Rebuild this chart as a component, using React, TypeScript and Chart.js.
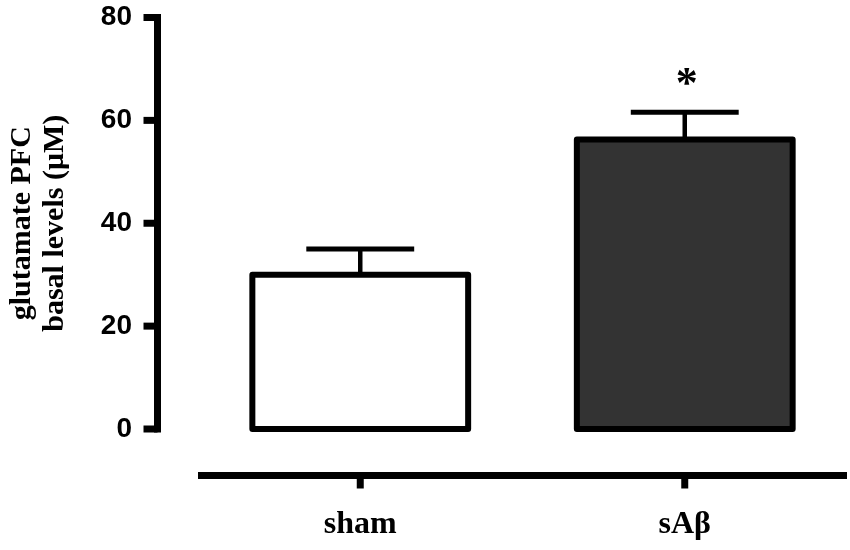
import React, { useEffect, useRef } from "react";
import { Chart, registerables } from "chart.js";

Chart.register(...registerables);

const categories = ["sham", "sAβ"];
const means = [30, 56.3];
const sems = [5, 5.3];
const significance = ["", "*"];
const fills = ["#ffffff", "#333333"];
const yTitle = ["glutamate PFC", "basal levels (μM)"];

const gpPlugin = {
  id: "gpAxes",
  afterDatasetsDraw(chart: any) {
    const { ctx, chartArea, scales } = chart;
    const ys = scales.y;
    const xs = scales.x;
    ctx.save();
    ctx.strokeStyle = "#000";
    ctx.fillStyle = "#000";
    const meta = chart.getDatasetMeta(0);
    meta.data.forEach((bar: any, i: number) => {
      const p = bar.getProps(["x", "y", "base", "width"], true);
      const top = ys.getPixelForValue(means[i] + sems[i]);
      // error bar
      ctx.lineCap = "butt";
      ctx.lineWidth = 4.5;
      ctx.beginPath();
      ctx.moveTo(p.x, p.y);
      ctx.lineTo(p.x, top);
      ctx.stroke();
      ctx.lineWidth = 5;
      ctx.beginPath();
      ctx.moveTo(p.x - p.width / 4, top);
      ctx.lineTo(p.x + p.width / 4, top);
      ctx.stroke();
      // outline
      ctx.lineWidth = 6;
      ctx.lineJoin = "round";
      ctx.strokeRect(p.x - p.width / 2, p.y, p.width, p.base - p.y);
      if (significance[i]) {
        ctx.font = 'bold 44px "Liberation Serif"';
        ctx.textAlign = "center";
        ctx.textBaseline = "alphabetic";
        ctx.fillText(significance[i], p.x + 2, top - 15);
      }
    });
    // y axis
    const ax = chartArea.left - 40.5;
    const y0 = ys.getPixelForValue(ys.min);
    const y1 = ys.getPixelForValue(ys.max);
    ctx.lineCap = "butt";
    ctx.lineWidth = 7;
    ctx.beginPath();
    ctx.moveTo(ax, y1 - 3.5);
    ctx.lineTo(ax, y0 + 3.5);
    ctx.stroke();
    ys.ticks.forEach((t: any) => {
      const py = ys.getPixelForValue(t.value);
      ctx.beginPath();
      ctx.moveTo(ax - 14, py);
      ctx.lineTo(ax, py);
      ctx.stroke();
    });
    // x axis
    const ay = chartArea.bottom + 46.5;
    ctx.beginPath();
    ctx.moveTo(chartArea.left, ay);
    ctx.lineTo(chartArea.right, ay);
    ctx.stroke();
    categories.forEach((_, i) => {
      const px = xs.getPixelForValue(i);
      ctx.beginPath();
      ctx.moveTo(px, ay);
      ctx.lineTo(px, ay + 13);
      ctx.stroke();
    });
    ctx.restore();
  },
};

export default function App() {
  const ref = useRef<HTMLCanvasElement>(null);
  useEffect(() => {
    if (!ref.current) return;
    const chart = new Chart(ref.current, {
      type: "bar",
      data: {
        labels: categories,
        datasets: [
          {
            data: means,
            backgroundColor: fills,
            borderWidth: 0,
            barPercentage: 0.665,
            categoryPercentage: 1,
          },
        ],
      },
      options: {
        animation: false,
        responsive: false,
        devicePixelRatio: 1,
        layout: { padding: { top: 17.5, right: 3, left: 0, bottom: 0 } },
        plugins: { legend: { display: false }, tooltip: { enabled: false } },
        scales: {
          x: {
            grid: { display: false, drawTicks: false },
            border: { display: false },
            ticks: {
              color: "#000",
              padding: 77,
              font: { family: '"Liberation Serif"', size: 32, weight: "bold" },
            },
            afterFit: (s: any) => {
              s.height = 121;
              s.paddingLeft = 0;
              s.paddingRight = 0;
            },
          },
          y: {
            min: 0,
            max: 80,
            grid: { display: false, drawTicks: false },
            border: { display: false },
            ticks: {
              stepSize: 20,
              color: "#000",
              padding: 66,
              font: { family: '"Liberation Sans"', size: 28, weight: "bold" },
            },
            title: {
              display: true,
              text: yTitle,
              color: "#000",
              padding: { top: 5.5, bottom: 0 },
              font: { family: '"Liberation Serif"', size: 30, weight: "bold", lineHeight: 1.1 },
            },
            afterFit: (s: any) => {
              s.width = 198;
              s.paddingTop = 0;
              s.paddingBottom = 0;
            },
          },
        },
      },
      plugins: [gpPlugin],
    });
    return () => chart.destroy();
  }, []);
  return (
    <div style={{ position: "fixed", left: 0, top: 0, width: 850, height: 550, background: "#fff" }}>
      <canvas ref={ref} width={850} height={550} style={{ display: "block" }} />
    </div>
  );
}
